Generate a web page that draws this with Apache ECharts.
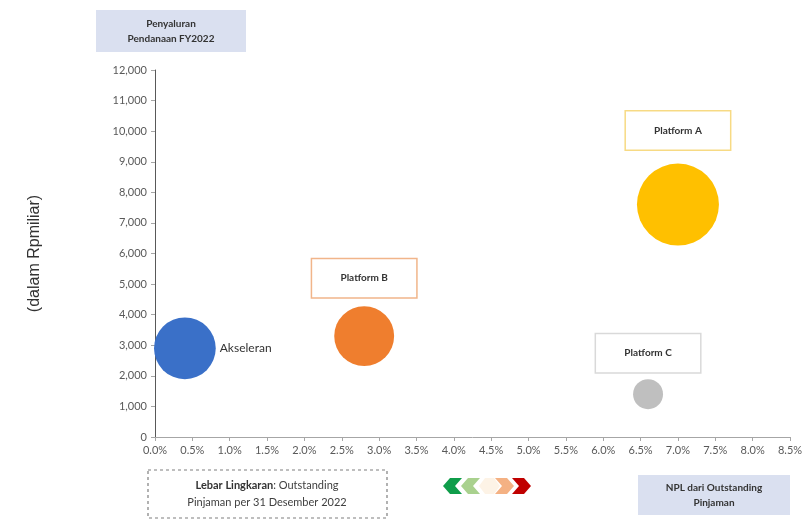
<!DOCTYPE html>
<html>
<head>
<meta charset="utf-8">
<script src="https://cdn.jsdelivr.net/npm/echarts@6/dist/echarts.min.js"></script>
<style>
  html, body { margin: 0; padding: 0; background: #fff; }
  #chart { width: 806px; height: 523px; }
</style>
</head>
<body>
<div id="chart"></div>
<script>
// 数据
var names = ['Akseleran', 'Platform B', 'Platform A', 'Platform C'];
var npl = [0.4, 2.8, 7.0, 6.6];                 // NPL dari Outstanding Pinjaman (%)
var penyaluran = [2900, 3300, 7600, 1400];      // Penyaluran Pendanaan FY2022 (Rp miliar)
var outstanding = [1700, 1600, 3000, 400];      // Outstanding Pinjaman (lebar lingkaran)
var colors = ['#3a70c8', '#ef7e2e', '#ffc000', '#bfbfbf'];
var labelBorders = [null, '#f1b58a', '#f7da84', '#d9d9d9'];
var labelGaps = [0, 9, 14, 7];

var font = 'Lato, "Open Sans", sans-serif';

document.addEventListener('DOMContentLoaded', function () {
  var chart = echarts.init(document.getElementById('chart'));

  var data = names.map(function (n, i) {
    var item = {
      name: n,
      value: [npl[i], penyaluran[i], outstanding[i]],
      itemStyle: { color: colors[i] }
    };
    if (i === 0) {
      item.label = {
        show: true, position: 'right', distance: 4,
        formatter: '{b}', color: '#333', fontSize: 12, fontFamily: font
      };
    } else {
      item.label = {
        show: true, position: 'top', distance: labelGaps[i],
        formatter: '{b}', color: '#333', fontSize: 10, fontWeight: 'bold', fontFamily: font,
        backgroundColor: '#fff', borderColor: labelBorders[i], borderWidth: 1.5,
        width: 104, height: 38, lineHeight: 38, align: 'center'
      };
    }
    return item;
  });

  // 箭头（装饰）
  function chevron(x0, dir, color) {
    var y0 = 478, w = 19, h = 16, d = 7;
    var pts = dir < 0
      ? [[x0, y0 + h / 2], [x0 + d, y0], [x0 + w, y0], [x0 + w - d, y0 + h / 2], [x0 + w, y0 + h], [x0 + d, y0 + h]]
      : [[x0 + w, y0 + h / 2], [x0 + w - d, y0], [x0, y0], [x0 + d, y0 + h / 2], [x0, y0 + h], [x0 + w - d, y0 + h]];
    return { type: 'polygon', shape: { points: pts }, style: { fill: color } };
  }

  var option = {
    animation: false,
    grid: { left: 155, right: 16, top: 70, bottom: 86 },
    xAxis: {
      type: 'value', min: 0, max: 8.5, interval: 0.5,
      axisLine: { lineStyle: { color: '#a6a6a6' } },
      axisTick: { show: true, length: 4, lineStyle: { color: '#a6a6a6' } },
      splitLine: { show: false },
      axisLabel: {
        color: '#595959', fontSize: 11, fontFamily: font, margin: 8,
        formatter: function (v) { return v.toFixed(1) + '%'; }
      }
    },
    yAxis: {
      type: 'value', min: 0, max: 12000, interval: 1000,
      name: '(dalam Rpmiliar)', nameLocation: 'middle', nameGap: 112, nameRotate: 90,
      nameTextStyle: { color: '#333', fontSize: 16, fontFamily: 'Liberation Sans, Arial, sans-serif' },
      axisLine: { show: true, lineStyle: { color: '#595959' } },
      axisTick: { show: true, length: 4, lineStyle: { color: '#a6a6a6' } },
      splitLine: { show: false },
      axisLabel: {
        color: '#595959', fontSize: 11, fontFamily: font, margin: 8,
        formatter: function (v) { return v.toLocaleString('en-US'); }
      }
    },
    series: [{
      type: 'scatter',
      data: data,
      symbolSize: function (v) { return 82 * Math.sqrt(v[2] / 3000); },
      itemStyle: { opacity: 1 }
    }],
    graphic: [
      { type: 'rect', left: 96, top: 10, shape: { width: 150, height: 42 }, style: { fill: '#dae0f0' } },
      { type: 'text', x: 171, y: 31, style: {
          text: 'Penyaluran\nPendanaan FY2022', align: 'center', verticalAlign: 'middle',
          font: 'bold 10px ' + font, fill: '#333', lineHeight: 15 } },
      { type: 'rect', left: 638, top: 475, shape: { width: 152, height: 40 }, style: { fill: '#dae0f0' } },
      { type: 'text', x: 714, y: 495, style: {
          text: 'NPL dari Outstanding\nPinjaman', align: 'center', verticalAlign: 'middle',
          font: 'bold 10px ' + font, fill: '#333', lineHeight: 15 } },
      { type: 'rect', shape: { x: 148, y: 470, width: 239, height: 48 },
        style: { fill: 'none', stroke: '#7f7f7f', lineWidth: 1.2, lineDash: [3, 3] } },
      { type: 'text', x: 267, y: 494, style: {
          text: '{b|Lebar Lingkaran}: Outstanding\nPinjaman per 31 Desember 2022',
          align: 'center', verticalAlign: 'middle', font: '11px ' + font, fill: '#404040', lineHeight: 17,
          rich: { b: { fontWeight: 'bold', fontSize: 11, fontFamily: font, fill: '#333' } } } },
      chevron(443, -1, '#0f9d4a'),
      chevron(461, -1, '#a9d18e'),
      { type: 'polygon', shape: { points: [[479, 486], [485, 478], [494, 478], [500, 486], [494, 494], [485, 494]] },
        style: { fill: '#fdf3e6' } },
      chevron(495, 1, '#f4b183'),
      chevron(512, 1, '#c00000')
    ]
  };

  chart.setOption(option);
  window.addEventListener('resize', function () { chart.resize(); });
});
</script>
</body>
</html>
